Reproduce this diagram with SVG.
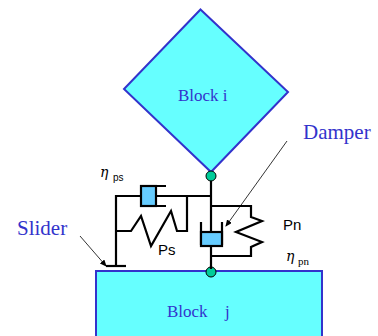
<svg xmlns="http://www.w3.org/2000/svg" width="378" height="336" viewBox="0 0 378 336">
<defs>
<marker id="ah" markerWidth="7" markerHeight="6" refX="6" refY="3" orient="auto" markerUnits="userSpaceOnUse"><path d="M0 0L7 3L0 6Z" fill="#000"/></marker>
</defs>
<style>
.blk{fill:#66ffff;stroke:#3333cc;stroke-width:2}
.w{fill:none;stroke:#000;stroke-width:2.200}
.pot{fill:#66ccff;stroke:#000;stroke-width:2.200}
.joint{fill:#00cc99;stroke:#000;stroke-width:1}
.lead{fill:none;stroke:#000;stroke-width:.8;marker-end:url(#ah)}
.b{font-family:"Liberation Serif",serif;fill:#3333cc}
.s{font-family:"Liberation Sans",sans-serif;fill:#000;font-size:15px}
.e{font-family:"DejaVu Serif","Liberation Serif",serif;font-style:italic;fill:#000;font-size:14px}
.sub{font-family:"Liberation Sans",sans-serif;fill:#000;font-size:10px}
.subt{font-family:"Liberation Serif",serif;fill:#000;font-size:11px}
</style>
<g id="block-i"><path class="blk" d="M200.500 9.500L288 92L211 172L124 89Z"/><text class="b" x="178" y="101" font-size="17">Block i</text></g>
<g id="block-j"><rect class="blk" x="96" y="271" width="226" height="66"/><text class="b" x="167" y="317" font-size="17">Block<tspan x="225">j</tspan></text></g>
<g id="connectors">
<path class="w" d="M211 176V271"/>
<path class="w" d="M211 196H141"/>
<path class="w" d="M116 266V196H141M156 186H166M156 206H166"/>
<path class="w" d="M187 196V231H177L171 211L151 246L141 216L131 231H116"/>
<path class="w" d="M106 266H126" stroke-width="3"/>
<path class="w" d="M211 206H251V217L262 221L236 232L262 242L251 247V256H211"/>
<path class="w" d="M201 222V245M222 222V245"/>
<path class="lead" d="M287 141L226 226"/>
<path class="lead" d="M80 236L106 266"/>
</g>
<g id="damper-top"><rect class="pot" x="141" y="186" width="15" height="20"/></g>
<g id="damper-bottom"><rect class="pot" x="201" y="232" width="21" height="14"/></g>
<g id="joint-top"><circle class="joint" cx="211" cy="176" r="5"/></g>
<g id="joint-bottom"><circle class="joint" cx="211" cy="272" r="5"/><path class="w" d="M211 266V269"/></g>
<g id="labels">
<text class="b" x="303" y="139" font-size="21">Damper</text>
<text class="b" x="17" y="235" font-size="21">Slider</text>
<text class="s" x="158" y="255">Ps</text>
<text class="s" x="283" y="230">Pn</text>
<text class="e" x="100" y="177">η</text><text class="sub" x="113" y="181">ps</text>
<text class="e" x="286" y="261">η</text><text class="subt" x="298" y="265">pn</text>
</g>
</svg>
